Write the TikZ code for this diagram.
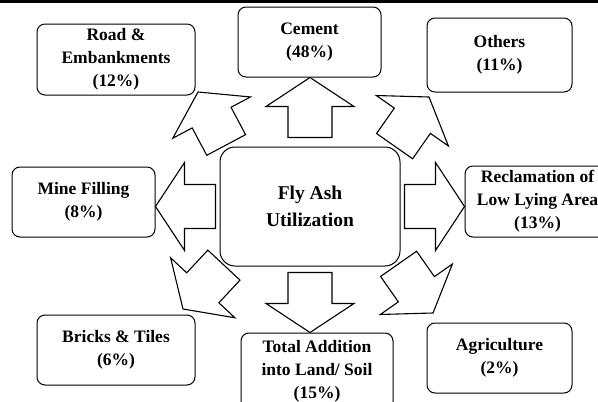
\documentclass[tikz,border=0pt]{standalone}
\usepackage{fontspec}
\setmainfont{Liberation Serif}
\usepackage{tikz}

\tikzset{
  blockarrow/.pic={
    \draw[sharp corners, line width=1.1pt, fill=white] (0,0) -- (-29,-44) -- (-29,-22) -- (-60,-22)
      -- (-60,22) -- (-29,22) -- (-29,44) -- cycle;
  },
  box/.style={minimum width=145pt, minimum height=70pt}
}

\begin{document}
\begin{tikzpicture}[x=1pt, y=-1pt, every node/.style={draw,
                rounded corners=8pt,
                line width=1pt,
                align=center,
                inner sep=0pt,
                font=\bfseries\fontsize{17.5}{23}\selectfont}]
            \clip (0,0) rectangle (598,402);
            \fill (0,0) rectangle (598,3);

            \node[box, minimum width=180pt, minimum height=119pt, rounded corners=15pt,
                font=\bfseries\fontsize{19.5}{27}\selectfont] (fly) at (310,206.5) {Fly Ash\\Utilization};

            \node[box, minimum width=158pt, minimum height=71pt] (road) at (116,59.5) {Road \&\\Embankments\\(12\%)};
            \node[box, minimum width=143pt] (cement) at (309.5,42) {Cement\\(48\%)};
            \node[box, minimum height=74pt] (others) at (499.5,55) {Others\\(11\%)};
            \node[box, minimum width=143pt] (mine) at (83.5,202) {Mine Filling\\(8\%)};
            \node[box, minimum height=71pt] (recl) at (537.5,201.5) {Reclamation of\\Low Lying Area\\(13\%)};
            \node[box, minimum width=158pt] (bricks) at (116,350) {Bricks \& Tiles\\(6\%)};
            \node[box, minimum width=152pt, minimum height=77pt] (total) at (317,371.5) {Total Addition\\into Land/ Soil\\(15\%)};
            \node[box] (agri) at (499.5,358) {Agriculture\\(2\%)};

            % arrow tips
            \coordinate (tipN) at (cement.south -| fly.center);
            \coordinate (tipS) at (total.north -| fly.center);
            \coordinate (tipW) at (mine.east |- fly.center);
            \coordinate (tipE) at (recl.west |- fly.center);
            \coordinate (tipNW) at (198,92);
            \coordinate (tipNE) at (429,97);
            \coordinate (tipSW) at (183,309);
            \coordinate (tipSE) at (433,313);

            \foreach \t/\a in {tipN/90, tipS/270, tipW/180, tipE/0,
                    tipNW/118, tipNE/55, tipSW/227, tipSE/305} {
                    \pic[rotate=\a] at (\t) {blockarrow};
                }
        \end{tikzpicture}
\end{document}
